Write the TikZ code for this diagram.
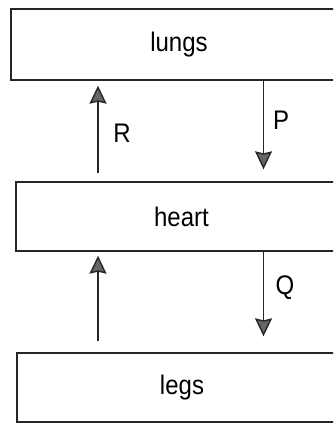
\documentclass[tikz,border=0pt]{standalone}
\usepackage{fontspec}
\setmainfont{Liberation Sans}
\usetikzlibrary{arrows.meta}
\newcommand{\lbl}[1]{\scalebox{1}[1.12]{#1}}
\begin{document}
\begin{tikzpicture}[x=1pt,y=-1pt,
  box/.style={draw=black!85,line width=1.4pt,rectangle,inner sep=0pt,
    font=\fontsize{24}{24}\selectfont},
  arr/.style={draw=black!85,line width=1.4pt,
    -{Stealth[length=18pt,width=17pt,inset=2pt,fill=black!60]}},
  tag/.style={font=\fontsize{24}{24}\selectfont,inner sep=0pt}]
\useasboundingbox (0,0) rectangle (333,425);
\clip (0,0) rectangle (333,425);
\node[box,minimum width=336pt,minimum height=71pt] (lungs) at (179,44.5) {\lbl{lungs}};
\node[box,minimum width=331pt,minimum height=69pt] (heart) at (181.5,216.5) {\lbl{heart}};
\node[box,minimum width=330pt,minimum height=69pt] (legs) at (182,387.5) {\lbl{legs}};
\coordinate (xl) at (98,0);
\coordinate (xr) at (263.5,0);
\draw[arr] ([yshift=8pt]heart.north -| xl) -- ([yshift=-5pt]lungs.south -| xl);
\draw[arr] (lungs.south -| xr) -- ([yshift=12pt]heart.north -| xr);
\draw[arr] ([yshift=11pt]legs.north -| xl) -- ([yshift=-4pt]heart.south -| xl);
\draw[arr] (heart.south -| xr) -- ([yshift=16pt]legs.north -| xr);
\node[tag] (R) at (122,133) {\lbl{R}};
\node[tag] (P) at (281,120) {\lbl{P}};
\node[tag] (Q) at (285,288) {\lbl{Q}};
\end{tikzpicture}
\end{document}
